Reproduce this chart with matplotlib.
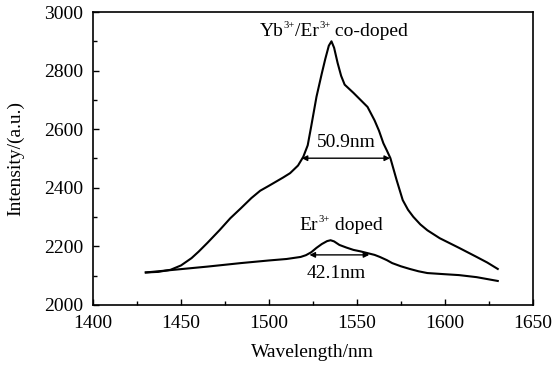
import matplotlib
matplotlib.use("Agg")
import matplotlib.pyplot as plt
from matplotlib.ticker import MultipleLocator
from matplotlib.transforms import IdentityTransform

# Yb/Er co-doped spectrum
wl_co = [1430, 1437, 1444, 1450, 1456, 1460, 1465, 1472, 1478, 1484, 1490, 1495,
         1500, 1504, 1508, 1512, 1516.5, 1519.5, 1522, 1524, 1527, 1530, 1532,
         1534, 1535.5, 1537, 1539, 1541, 1543, 1548, 1552, 1556, 1560, 1562.5,
         1565, 1567, 1569, 1572.5, 1576, 1579, 1582, 1586, 1590, 1597, 1602,
         1608, 1618, 1624, 1630]
int_co = [2111, 2113, 2120, 2135, 2160, 2182, 2212, 2256, 2296, 2330, 2365, 2390,
          2407, 2421, 2435, 2450, 2476, 2506, 2545, 2610, 2711, 2790, 2840,
          2885, 2900, 2878, 2826, 2782, 2752, 2724, 2700, 2676, 2630, 2595,
          2552, 2527, 2501, 2427, 2358, 2325, 2301, 2275, 2255, 2228, 2213,
          2195, 2164, 2145, 2123]

# Er doped spectrum
wl_er = [1430, 1444, 1465, 1484, 1500, 1510, 1518, 1521, 1524, 1527, 1530, 1533,
         1535, 1537, 1540, 1544, 1548, 1552, 1556, 1560, 1563, 1567, 1570, 1575,
         1580, 1585, 1590, 1600, 1608, 1618, 1630]
int_er = [2111, 2119, 2131, 2143, 2152, 2157, 2164, 2170, 2180, 2195, 2208, 2218,
          2221, 2217, 2205, 2196, 2188, 2183, 2177, 2171, 2164, 2153, 2143, 2132,
          2123, 2115, 2109, 2105, 2102, 2095, 2082]

# FWHM markers (start, end, level)
fwhm_co = (1518.6, 1568.8, 2501)
fwhm_er = (1523, 1557, 2171)

plt.rcParams['font.family'] = ['Liberation Serif', 'DejaVu Serif']
FS = 14

fig = plt.figure(figsize=(5.52, 3.66), dpi=100)
ax = fig.add_axes([0.1685, 0.1667, 0.797, 0.8005])

ax.plot(wl_co, int_co, color='black', lw=1.5)
ax.plot(wl_er, int_er, color='black', lw=1.5)

for x0, x1, y in (fwhm_co, fwhm_er):
    ax.annotate('', xy=(x0, y), xytext=(x1, y),
                arrowprops=dict(arrowstyle='<|-|>', color='black', lw=1.0,
                                mutation_scale=8, shrinkA=0, shrinkB=0))

ax.set_xlim(1400, 1650)
ax.set_ylim(2000, 3000)

renderer = fig.canvas.get_renderer()


def sup_text(x, y, pieces):
    # pieces: (string, is_superscript); drawn centred at data point (x, y)
    px, py = ax.transData.transform((x, y))
    arts = []
    for s, sup in pieces:
        t = fig.text(0, 0, s, fontsize=FS * 0.55 if sup else FS, va='baseline',
                     transform=IdentityTransform())
        arts.append((t, sup, t.get_window_extent(renderer).width))
    total = sum(w for _, _, w in arts)
    cur = px - total / 2
    base = py - FS * 0.33
    for t, sup, w in arts:
        t.set_position((cur, base + (FS * 0.55 if sup else 0)))
        cur += w


sup_text(1537, 2935, [('Yb', 0), ('3+', 1), ('/Er', 0), ('3+', 1), (' co-doped', 0)])
sup_text(1541, 2273, [('Er', 0), ('3+', 1), (' doped', 0)])
ax.text(1544, 2553, '50.9nm', ha='center', va='center', fontsize=FS)
ax.text(1538, 2109, '42.1nm', ha='center', va='center', fontsize=FS)

ax.xaxis.set_major_locator(MultipleLocator(50))
ax.xaxis.set_minor_locator(MultipleLocator(25))
ax.yaxis.set_major_locator(MultipleLocator(200))
ax.yaxis.set_minor_locator(MultipleLocator(100))
ax.tick_params(which='both', direction='in', labelsize=FS, width=1)
ax.tick_params(axis='x', which='both', pad=7)
ax.tick_params(axis='y', which='both', pad=7)
ax.tick_params(which='major', length=4)
ax.tick_params(which='minor', length=3)
for s in ax.spines.values():
    s.set_linewidth(1.2)

ax.set_xlabel('Wavelength/nm', fontsize=FS, labelpad=9)
ax.set_ylabel('Intensity/(a.u.)', fontsize=FS, labelpad=14)

fig.savefig('out.png', dpi=100)
